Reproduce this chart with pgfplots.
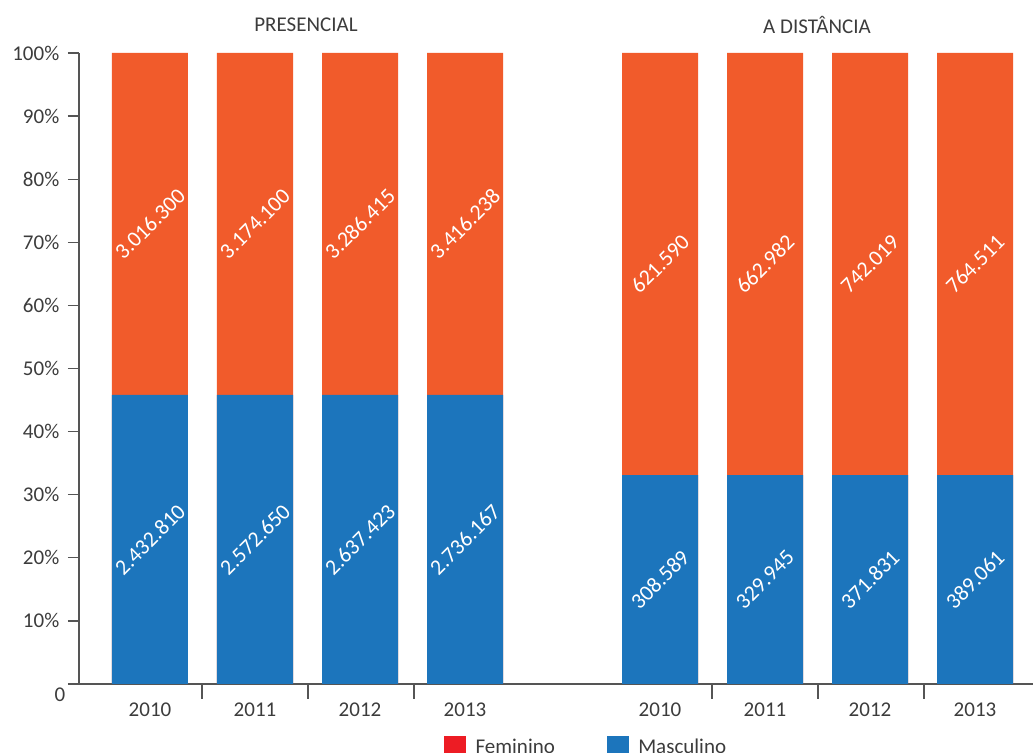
\documentclass[border=0pt]{standalone}
\usepackage{pgfplots}
\pgfplotsset{compat=1.18}
\usepackage{pgfplotstable}
\usepackage{fontspec}
\setmainfont{Carlito}

\definecolor{fem}{RGB}{241,91,43}
\definecolor{masc}{RGB}{28,117,188}
\definecolor{femkey}{RGB}{237,28,36}
\definecolor{txt}{RGB}{60,60,60}
\definecolor{axisgray}{RGB}{85,85,85}

\newcommand\lbl{\fontsize{15.75}{18}\selectfont}

% x in pixel positions of the bar centres, m = Masculino share (%) as drawn
\pgfplotstableread{
x    m     fem        masc
150  45.8  3.016.300  2.432.810
255  45.8  3.174.100  2.572.650
360  45.8  3.286.415  2.637.423
465  45.8  3.416.238  2.736.167
660  33.1  621.590    308.589
765  33.1  662.982    329.945
870  33.1  742.019    371.831
975  33.1  764.511    389.061
}\shares

\begin{document}
\begin{tikzpicture}
\path[use as bounding box] (-59.25pt,-51.75pt) rectangle (715.5pt,513pt);
\begin{axis}[
  x=0.75pt, y=4.7325pt,
  xmin=79, xmax=1033, ymin=0, ymax=100,
  axis lines*=left,
  axis line style={axisgray, line width=1pt},
  clip=false,
  tick align=outside,
  major tick length=8.25pt,
  ytick={10,20,...,100},
  yticklabels={10\%,20\%,30\%,40\%,50\%,60\%,70\%,80\%,90\%,100\%},
  extra y ticks={0}, extra y tick labels={0},
  extra y tick style={yticklabel style={yshift=-8pt, xshift=4.5pt}},
  ytick style={axisgray, line width=1pt},
  yticklabel style={font=\lbl, text=txt, xshift=-3pt},
  xtick={202,308,414,712,818,924}, xticklabels={},
  xtick style={axisgray, line width=1pt, /pgfplots/major tick length=11.25pt},
  extra x ticks={150,255,360,465,660,765,870,975},
  extra x tick labels={2010,2011,2012,2013,2010,2011,2012,2013},
  extra x tick style={tick style={draw=none}},
  xticklabel style={font=\lbl, text=txt, yshift=-2.25pt},
  legend image code/.code={\fill[#1] (0pt,-8.25pt) rectangle (16.5pt,8.25pt);},
  legend style={draw=none, fill=none, font=\lbl, text=txt,
    at={(axis description cs:0.3826,-0.0824)}, anchor=north west,
    inner sep=0pt, legend columns=2,
    /tikz/every odd column/.append style={column sep=5pt},
    /tikz/every even column/.append style={column sep=37pt}},
]
\addplot[ybar, bar width=76, bar shift=0pt, fill=fem, draw=none, forget plot]
  table[x=x, y expr=100] {\shares};
\addplot[ybar, bar width=76, bar shift=0pt, fill=masc, draw=none, forget plot]
  table[x=x, y=m] {\shares};
\addplot[draw=none, mark=none, forget plot,
  nodes near coords, point meta=explicit symbolic,
  nodes near coords style={rotate=45, anchor=center, text=white,
    font=\fontsize{16.5}{18}\selectfont}]
  table[x=x, y expr={\thisrow{m}/2}, meta=masc] {\shares};
\addplot[draw=none, mark=none, forget plot,
  nodes near coords, point meta=explicit symbolic,
  nodes near coords style={rotate=45, anchor=center, text=white,
    font=\fontsize{16.5}{18}\selectfont}]
  table[x=x, y expr={(100+\thisrow{m})/2}, meta=fem] {\shares};
\addlegendimage{fill=femkey, draw=none}
\addlegendentry{Feminino}
\addlegendimage{fill=masc, draw=none}
\addlegendentry{Masculino}
\node[font=\lbl, text=txt] at (axis cs:306,104.4) {PRESENCIAL};
\node[font=\lbl, text=txt] at (axis cs:817,104.4) {A DISTÂNCIA};
\end{axis}
\end{tikzpicture}
\end{document}
